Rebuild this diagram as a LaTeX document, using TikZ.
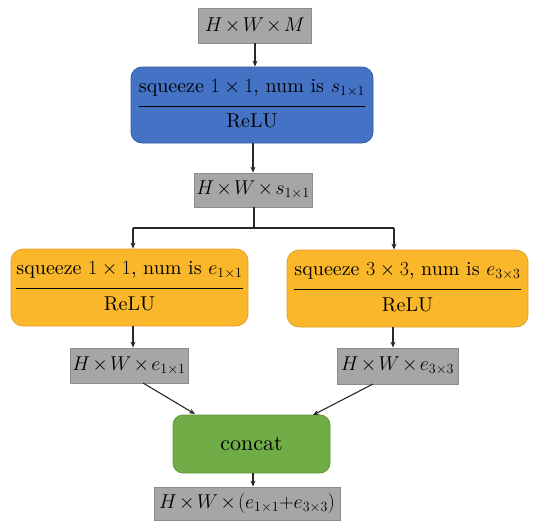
\RequirePackage{fix-cm}
\documentclass[tikz,border=0pt]{standalone}
\usepackage{amsmath}
\usepackage{fontspec}
\setmainfont{lmroman10-regular.otf}[ItalicFont=lmroman10-italic.otf, BoldFont=lmroman10-bold.otf]
\usetikzlibrary{arrows.meta}
\definecolor{boxgray}{RGB}{166,166,166}
\definecolor{boxgrayd}{RGB}{140,140,140}
\definecolor{bluef}{RGB}{68,114,196}
\definecolor{blued}{RGB}{52,92,165}
\definecolor{orangef}{RGB}{250,183,42}
\definecolor{oranged}{RGB}{225,160,45}
\definecolor{greenf}{RGB}{112,173,71}
\definecolor{greend}{RGB}{92,150,58}
\definecolor{arr}{RGB}{40,40,40}
\tikzset{
  base/.style={inner sep=0pt, font=\fontsize{20}{25}\selectfont, line width=0.8pt, text=black},
  graybox/.style={base, rectangle, fill=boxgray, draw=boxgrayd},
  bluebox/.style={base, rectangle, rounded corners=11pt, fill=bluef, draw=blued},
  orangebox/.style={base, rectangle, rounded corners=12pt, fill=orangef, draw=oranged},
  greenbox/.style={base, rectangle, rounded corners=10pt, fill=greenf, draw=greend, font=\fontsize{22}{26}\selectfont},
  conn/.style={draw=arr, line width=1.1pt},
  arrow/.style={conn, -{Stealth[length=6pt,width=5pt]}},
}
\newcommand{\xx}{\mathbin{\mkern-2mu\times\mkern-2mu}}
\newcommand{\twoline}[2]{\setlength{\arrayrulewidth}{1.3pt}\begin{tabular}{@{}c@{}}#1\\[6pt]\hline\rule{0pt}{21pt}#2\end{tabular}}
\begin{document}
\begin{tikzpicture}[x=1pt,y=-1pt]
\useasboundingbox (0,0) rectangle (540,523);
\node[graybox, minimum width=113pt, minimum height=35pt] (in) at (255,25.5) {$H\xx W\xx M$};
\node[bluebox, minimum width=242pt, minimum height=76pt] (sq) at (252,105) {\twoline{squeeze $1\times1$, num is $s_{1\times1}$}{ReLU}};
\node[graybox, minimum width=118pt, minimum height=34pt] (mid) at (253,190) {$H\xx W\xx s_{1\times1}$};
\node[orangebox, minimum width=237pt, minimum height=77pt] (e1) at (129.5,287.5) {\twoline{squeeze $1\times1$, num is $e_{1\times1}$}{ReLU}};
\node[orangebox, minimum width=241pt, minimum height=77pt] (e3) at (407.5,288.5) {\twoline{squeeze $3\times3$, num is $e_{3\times3}$}{ReLU}};
\node[graybox, minimum width=118pt, minimum height=35pt] (o1) at (129,365.5) {$H\xx W\xx e_{1\times1}$};
\node[graybox, minimum width=121pt, minimum height=36pt] (o3) at (397.5,366) {$H\xx W\xx e_{3\times3}$};
\node[greenbox, minimum width=157pt, minimum height=58pt] (cat) at (251.5,444) {concat};
\node[graybox, minimum width=186pt, minimum height=33pt] (out) at (247,503.5) {$H\xx W\xx(e_{1\times1}{+}e_{3\times3})$};
% connectors
\draw[arrow] (in.south) -- (in.south |- sq.north);
\draw[arrow] (sq.south -| mid.north) -- (mid.north);
\coordinate (bm) at (254,228);
\coordinate (bl) at (133,228);
\coordinate (br) at (394,228);
\draw[conn] (mid.south -| bm) -- (bm);
\draw[conn] (bl) -- (br);
\draw[arrow] (bl) -- (bl |- e1.north);
\draw[arrow] (br) -- (br |- e3.north);
\coordinate (a1) at (133,326);
\coordinate (a3) at (393,327);
\draw[arrow] (a1) -- (a1 |- o1.north);
\draw[arrow] (a3) -- (a3 |- o3.north);
\coordinate (d1) at (143,383);
\coordinate (f1) at (195,414);
\coordinate (d3) at (373,384);
\coordinate (f3) at (313,415);
\draw[arrow] (d1) -- (f1);
\draw[arrow] (d3) -- (f3);
\coordinate (cx) at (253,0);
\draw[arrow] (cat.south -| cx) -- (out.north -| cx);
\end{tikzpicture}
\end{document}
